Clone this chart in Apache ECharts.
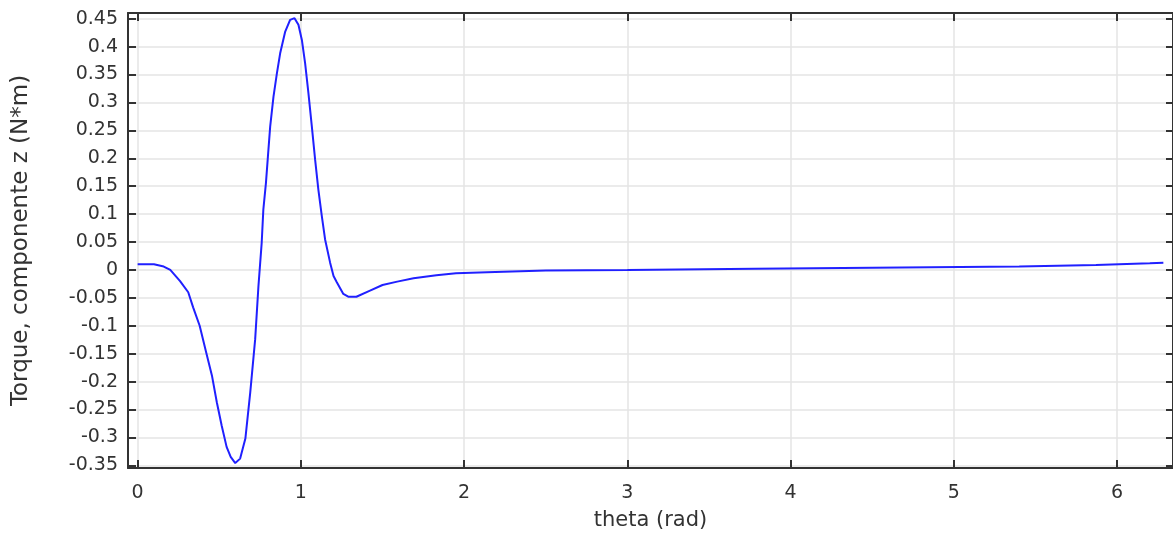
<!DOCTYPE html>
<html>
<head>
<meta charset="utf-8">
<script src="https://cdn.jsdelivr.net/npm/echarts@6/dist/echarts.min.js"></script>
<style>
  html, body { margin: 0; padding: 0; background: #fff; }
  #main { width: 1173px; height: 536px; }
</style>
</head>
<body>
<div id="main"></div>
<script>
// torque vs angle
var theta = [0, 0.05, 0.1, 0.16, 0.2, 0.26, 0.31, 0.34, 0.38, 0.42, 0.455, 0.485, 0.515, 0.545, 0.57, 0.598,
    0.628, 0.66, 0.69, 0.72, 0.74, 0.76, 0.77, 0.786, 0.798, 0.812, 0.832, 0.853, 0.873, 0.904, 0.934, 0.961,
    0.985, 1.006, 1.026, 1.046, 1.067, 1.087, 1.107, 1.128, 1.148, 1.179, 1.2, 1.22, 1.26, 1.29, 1.34, 1.42,
    1.5, 1.59, 1.69, 1.83, 1.95, 2.14, 2.5, 3.0, 3.78, 4.5, 5.4, 5.87, 6.2, 6.283];
var torque = [0.010, 0.010, 0.010, 0.006, 0.0, -0.020, -0.040, -0.067, -0.100, -0.148, -0.189, -0.237, -0.279, -0.317, -0.335, -0.346,
    -0.338, -0.302, -0.219, -0.124, -0.029, 0.049, 0.108, 0.156, 0.203, 0.257, 0.310, 0.352, 0.388, 0.427, 0.448, 0.451,
    0.439, 0.412, 0.370, 0.317, 0.257, 0.198, 0.144, 0.097, 0.055, 0.013, -0.011, -0.022, -0.043, -0.048, -0.048, -0.0375,
    -0.027, -0.021, -0.015, -0.0095, -0.006, -0.004, -0.001, 0.0, 0.002, 0.004, 0.006, 0.009, 0.012, 0.013];

var xTicks = [0, 1, 2, 3, 4, 5, 6];
var yTicks = [-0.35, -0.3, -0.25, -0.2, -0.15, -0.1, -0.05, 0, 0.05, 0.1, 0.15, 0.2, 0.25, 0.3, 0.35, 0.4, 0.45];

var xName = 'theta (rad)';
var yName = 'Torque, componente z (N*m)';

var font = 'DejaVu Sans';
var frame = { onZero: false, lineStyle: { color: '#333', width: 2 } };
var grid = { color: '#e4e4e4', width: 1.5 };

var data = [];
for (var i = 0; i < theta.length; i++) {
    data.push([theta[i], torque[i]]);
}

var myChart = echarts.init(document.getElementById('main'));
option = {
    animation: false,
    backgroundColor: '#fff',
    grid: {
        left: 128,
        top: 13,
        width: 1046,
        height: 457
    },
    xAxis: [
        {
            type: 'value',
            position: 'bottom',
            min: -0.059,
            max: 6.342,
            name: xName,
            nameLocation: 'middle',
            nameGap: 42,
            nameTextStyle: { fontFamily: font, fontSize: 21, color: '#333' },
            axisLine: frame,
            axisTick: { inside: true, length: 8, customValues: xTicks, lineStyle: { color: '#333', width: 2 } },
            axisLabel: { customValues: xTicks, margin: 16, fontFamily: font, fontSize: 19, color: '#333' },
            splitLine: { show: true, lineStyle: grid }
        },
        {
            type: 'value',
            position: 'top',
            min: -0.059,
            max: 6.342,
            axisLine: frame,
            axisTick: { inside: true, length: 8, customValues: xTicks, lineStyle: { color: '#333', width: 2 } },
            axisLabel: { show: false },
            splitLine: { show: false }
        }
    ],
    yAxis: [
        {
            type: 'value',
            position: 'left',
            min: -0.3548,
            max: 0.4602,
            name: yName,
            nameLocation: 'middle',
            nameGap: 95,
            nameTextStyle: { fontFamily: font, fontSize: 23, color: '#333' },
            axisLine: frame,
            axisTick: { inside: true, length: 8, customValues: yTicks, lineStyle: { color: '#333', width: 2 } },
            axisLabel: { customValues: yTicks, margin: 10, fontFamily: font, fontSize: 19, color: '#333' },
            splitLine: { show: true, lineStyle: grid }
        },
        {
            type: 'value',
            position: 'right',
            min: -0.3548,
            max: 0.4602,
            axisLine: frame,
            axisTick: { inside: true, length: 7, customValues: yTicks, lineStyle: { color: '#333', width: 2 } },
            axisLabel: { show: false },
            splitLine: { show: false }
        }
    ],
    series: [
        {
            name: 'torque',
            type: 'line',
            xAxisIndex: 0,
            yAxisIndex: 0,
            showSymbol: false,
            smooth: false,
            lineStyle: { color: '#2020ff', width: 2 },
            data: data
        }
    ]
};
myChart.setOption(option);
</script>
</body>
</html>
